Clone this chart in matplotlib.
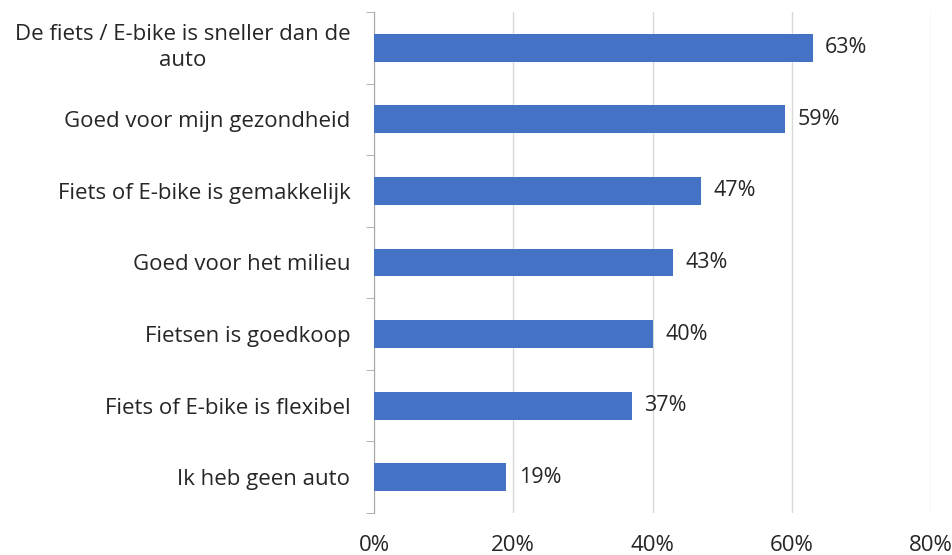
import matplotlib
matplotlib.use("Agg")
import matplotlib.pyplot as plt
import matplotlib.transforms as mtransforms
from matplotlib.ticker import PercentFormatter

categories = [
    "De fiets / E-bike is sneller dan de\nauto",
    "Goed voor mijn gezondheid",
    "Fiets of E-bike is gemakkelijk",
    "Goed voor het milieu",
    "Fietsen is goedkoop",
    "Fiets of E-bike is flexibel",
    "Ik heb geen auto",
]
values = [63, 59, 47, 43, 40, 37, 19]
x_ticks = [0, 20, 40, 60, 80]

plt.rcParams["font.family"] = ["Open Sans", "DejaVu Sans"]

fig = plt.figure(figsize=(9.53, 5.55), dpi=100)
ax = fig.add_axes([0.3925, 0.0757, 0.5845, 0.9027])

y = list(range(len(categories)))
ax.barh(y, values, height=0.39, color="#4472C4", zorder=3)
for yi, v in zip(y, values):
    ax.text(v + 1.8, yi, f"{v}%", va="center", ha="left",
            fontsize=15.5, color="#262626")

ax.set_xlim(0, 80)
ax.set_ylim(len(categories) - 0.5, -0.5)
ax.set_xticks(x_ticks)
ax.xaxis.set_major_formatter(PercentFormatter(decimals=0))
ax.set_yticks(y)
ax.set_yticklabels(categories, fontsize=16, color="#262626")
ax.set_yticks([i - 0.5 for i in range(len(categories) + 1)], minor=True)
ax.tick_params(axis="y", which="major", length=0, pad=17)
ax.tick_params(axis="y", which="minor", length=6, color="#A6A6A6")
ax.tick_params(axis="x", length=0, labelsize=16, labelcolor="#262626", pad=16)
for lbl in ax.get_yticklabels():
    lbl.set_multialignment("center")
    lbl.set_linespacing(1.35)

# two-line label sits a little higher in the original
shift = mtransforms.ScaledTranslation(0, 4 / 72, fig.dpi_scale_trans)
first = ax.get_yticklabels()[0]
first.set_transform(first.get_transform() + shift)

ax.grid(axis="x", color="#D9D9D9", linewidth=1, zorder=0)
for s in ["top", "right", "bottom"]:
    ax.spines[s].set_visible(False)
ax.spines["left"].set_color("#A6A6A6")

fig.savefig("out.png", dpi=100)
